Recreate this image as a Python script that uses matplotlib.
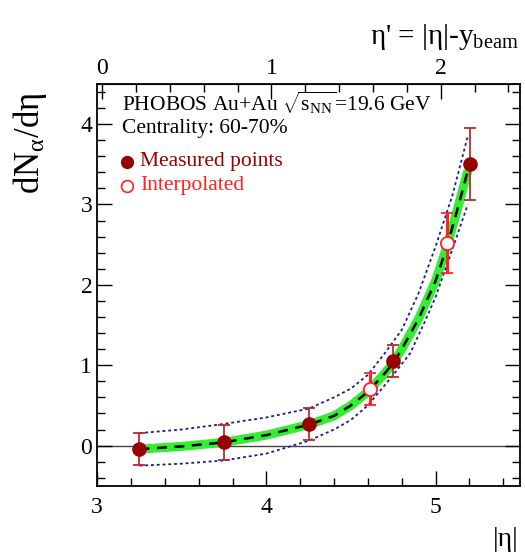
import numpy as np
import matplotlib
matplotlib.use("Agg")
import matplotlib.pyplot as plt
from matplotlib.ticker import MultipleLocator, FixedLocator

plt.rcParams['font.family'] = ['Liberation Serif', 'DejaVu Serif']
plt.rcParams['mathtext.fontset'] = 'custom'
plt.rcParams['mathtext.rm'] = 'Liberation Serif'
plt.rcParams['mathtext.it'] = 'Liberation Serif'

# measured points
meas_x = [3.25, 3.75, 4.25, 4.75, 5.205]
meas_y = [-0.045, 0.04, 0.265, 1.05, 3.50]
meas_err = [0.20, 0.22, 0.20, 0.20, 0.45]

# interpolated points
interp_x = [4.615, 5.067]
interp_y = [0.70, 2.52]
interp_err = [0.20, 0.37]

# fit curve
fit_x = [3.25, 3.5, 3.75, 4.0, 4.25, 4.4, 4.5, 4.6, 4.7, 4.75, 4.8, 4.9, 5.0, 5.07, 5.13, 5.19]
fit_y = [-0.045, -0.01, 0.04, 0.13, 0.26, 0.37, 0.50, 0.67, 0.90, 1.03, 1.20, 1.58, 2.05, 2.50, 2.95, 3.42]

# uncertainty band edges
up_x = [3.25, 3.5, 3.75, 4.0, 4.25, 4.4, 4.5, 4.6, 4.7, 4.8, 4.9, 5.0, 5.1, 5.19]
up_y = [0.155, 0.20, 0.27, 0.35, 0.46, 0.60, 0.71, 0.88, 1.15, 1.44, 1.90, 2.48, 3.12, 3.85]
lo_x = [3.25, 3.5, 3.75, 4.0, 4.25, 4.4, 4.5, 4.6, 4.75, 4.85, 4.94, 5.0, 5.1, 5.19]
lo_y = [-0.25, -0.225, -0.185, -0.10, 0.06, 0.20, 0.32, 0.50, 0.88, 1.15, 1.56, 1.85, 2.45, 3.00]

# top axis
y_beam = 3.03
top_ticks = [0, 1, 2]

fig = plt.figure(figsize=(5.25, 5.52), dpi=100)
ax = fig.add_axes([0.185, 0.120, 0.806, 0.728])

ax.axhline(0, color='#444444', lw=1.0, zorder=1)

ax.plot(fit_x, fit_y, color='#33ee33', lw=6.5, solid_capstyle='butt', zorder=2)
ax.plot(fit_x, fit_y, color='black', lw=1.8, ls=(0, (4, 3)), zorder=3)
ax.plot(up_x, up_y, color='#1a1aa0', lw=1.3, ls=(0, (1.6, 1.6)), zorder=3)
ax.plot(lo_x, lo_y, color='#1a1aa0', lw=1.3, ls=(0, (1.6, 1.6)), zorder=3)

ax.errorbar(meas_x, meas_y, yerr=meas_err, fmt='o', color='#990000', ecolor='#b03030',
            elinewidth=1.3, capsize=4, capthick=1.3, ms=9.5, zorder=5)
ax.errorbar(interp_x, interp_y, yerr=interp_err, fmt='o', mfc='white', mec='#ff2222',
            mew=1.3, ecolor='#ff2222', elinewidth=2.2, capsize=4, capthick=2.2, ms=9.5, zorder=5)

ax.set_xlim(3, 5.5)
ax.set_ylim(-0.5, 4.5)
ax.xaxis.set_major_locator(MultipleLocator(1))
ax.xaxis.set_minor_locator(MultipleLocator(0.2))
ax.yaxis.set_major_locator(MultipleLocator(1))
ax.yaxis.set_minor_locator(MultipleLocator(0.2))
ax.tick_params(which='both', direction='in', left=True, right=True, bottom=True, top=False,
               labelsize=17, width=1.0)
ax.tick_params(which='major', length=11)
ax.tick_params(which='minor', length=6)
ax.tick_params(axis='x', pad=8)
for s in ax.spines.values():
    s.set_linewidth(1.3)

sec = ax.secondary_xaxis('top', functions=(lambda x: x - y_beam, lambda x: x + y_beam))
sec.xaxis.set_major_locator(FixedLocator(top_ticks))
sec.xaxis.set_minor_locator(FixedLocator(np.arange(0, 2.5, 0.2)))
sec.tick_params(which='both', direction='in', labelsize=17, width=1.0)
sec.tick_params(which='major', length=11)
sec.tick_params(which='minor', length=6)

fig.text(0.988, 0.0, '|η|', ha='right', va='bottom', fontsize=20)
fig.text(0.988, 0.905, "η' = |η|-y$_{\\mathrm{beam}}$", ha='right', va='bottom', fontsize=21)
fig.text(0.058, 0.74, 'dN$_{\\mathrm{α}}$/dη', rotation=90, ha='center', va='center', fontsize=25)

ax.text(0.058, 0.953, 'PHOBOS Au+Au $\\sqrt{\\mathrm{s_{NN}}}$=19.6 GeV', transform=ax.transAxes,
        fontsize=15.5, va='center')
ax.text(0.058, 0.888, 'Centrality: 60-70%', transform=ax.transAxes, fontsize=15.5, va='center')

ax.plot([0.071], [0.806], 'o', color='#990000', ms=8.5, transform=ax.transAxes)
ax.text(0.102, 0.806, 'Measured points', transform=ax.transAxes, fontsize=15.5,
        va='center', color='#990000')
ax.plot([0.071], [0.746], 'o', mfc='white', mec='#ff2222', mew=1.2, ms=8.5, transform=ax.transAxes)
ax.text(0.102, 0.746, 'Interpolated', transform=ax.transAxes, fontsize=15.5,
        va='center', color='#ff2222')

fig.savefig('out.png', dpi=100)
